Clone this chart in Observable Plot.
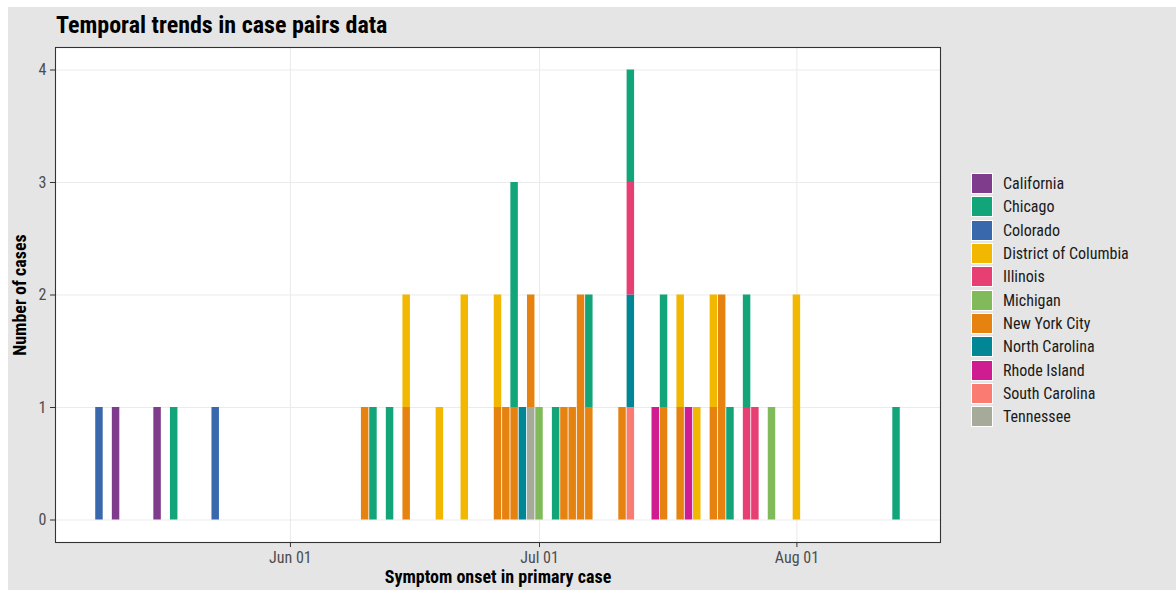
<!DOCTYPE html>
<html>
<head>
<meta charset="utf-8">
<script src="https://cdn.jsdelivr.net/npm/d3@7"></script>
<script src="https://cdn.jsdelivr.net/npm/@observablehq/plot@0.6"></script>
<style>
  html, body { margin: 0; padding: 0; background: #ffffff; }
  body { width: 1176px; height: 590px; position: relative; overflow: hidden; }
  #wrap { position: absolute; left: 8px; top: 7px; width: 1168px; height: 583px; background: #e5e5e5;
          font-family: "Roboto Condensed", "Liberation Sans Narrow", "Roboto", sans-serif; }
  #title { position: absolute; left: 48px; top: 4px; font-size: 24px; font-weight: bold; color: #000; line-height: 1.2; white-space: nowrap; }
  #chart { position: absolute; left: 0; top: 0; }
  #legend { position: absolute; left: 963px; top: 165px; }
  .item { height: 23.3px; display: flex; align-items: center; }
  .sw { width: 20px; height: 19px; border: 1px solid #ffffff; box-sizing: content-box; }
  .lab { margin-left: 10px; font-size: 16px; color: #1a1a1a; white-space: nowrap; }
  g[aria-label="y-axis label"] text, g[aria-label="x-axis label"] text { font-weight: bold; font-size: 18px !important; fill: #000; }
  g[aria-label="x-axis tick label"] text, g[aria-label="y-axis tick label"] text { font-size: 16px !important; }
</style>
</head>
<body>
<div id="wrap">
  <div id="title">Temporal trends in case pairs data</div>
  <div id="chart"></div>
  <div id="legend"></div>
</div>
<script>
const states = ["California", "Chicago", "Colorado", "District of Columbia", "Illinois", "Michigan",
                "New York City", "North Carolina", "Rhode Island", "South Carolina", "Tennessee"];
const stateColors = ["#7F3C8D", "#11A579", "#3969AC", "#F2B701", "#E73F74", "#80BA5A",
                     "#E68310", "#008695", "#CF1C90", "#F97B72", "#A5AA99"];

const onsetDates = [
  "2020-05-09", "2020-05-11", "2020-05-16", "2020-05-18", "2020-05-23",
  "2020-06-10", "2020-06-11", "2020-06-13", "2020-06-15", "2020-06-15",
  "2020-06-19", "2020-06-22", "2020-06-26", "2020-06-26", "2020-06-27",
  "2020-06-28", "2020-06-28", "2020-06-29", "2020-06-30", "2020-06-30",
  "2020-07-01", "2020-07-03", "2020-07-04", "2020-07-05", "2020-07-06",
  "2020-07-07", "2020-07-07", "2020-07-11", "2020-07-12", "2020-07-12",
  "2020-07-12", "2020-07-12", "2020-07-15", "2020-07-16", "2020-07-16",
  "2020-07-18", "2020-07-18", "2020-07-19", "2020-07-20", "2020-07-22",
  "2020-07-22", "2020-07-23", "2020-07-24", "2020-07-26", "2020-07-26",
  "2020-07-27", "2020-07-29", "2020-08-01", "2020-08-13"
];
const caseStates = [
  "Colorado", "California", "California", "Chicago", "Colorado",
  "New York City", "Chicago", "Chicago", "New York City", "District of Columbia",
  "District of Columbia", "District of Columbia", "New York City", "District of Columbia", "New York City",
  "New York City", "Chicago", "North Carolina", "Tennessee", "New York City",
  "Michigan", "Chicago", "New York City", "New York City", "New York City",
  "New York City", "Chicago", "New York City", "South Carolina", "North Carolina",
  "Illinois", "Chicago", "Rhode Island", "New York City", "Chicago",
  "New York City", "District of Columbia", "Rhode Island", "District of Columbia", "New York City",
  "District of Columbia", "New York City", "Chicago", "Illinois", "Chicago",
  "Illinois", "Michigan", "District of Columbia", "Chicago"
];
const caseCounts = [
  1, 1, 1, 1, 1,
  1, 1, 1, 1, 1,
  1, 2, 1, 1, 1,
  1, 2, 1, 1, 1,
  1, 1, 1, 1, 2,
  1, 1, 1, 1, 1,
  1, 1, 1, 1, 1,
  1, 1, 1, 1, 1,
  1, 2, 1, 1, 1,
  1, 1, 2, 1
];

const xTickLabels = ["2020-06-01", "2020-07-01", "2020-08-01"];
const yTicks = [0, 1, 2, 3, 4];

const DAY = 864e5;
const cases = onsetDates.map((d, i) => ({date: new Date(d + "T00:00:00Z"), state: caseStates[i], count: caseCounts[i]}));
const xTickDates = xTickLabels.map(d => new Date(d + "T00:00:00Z"));

// ggplot-like domain: bars of width 0.9 day, expanded by 5%
const minD = d3.min(cases, d => +d.date) - 0.45 * DAY;
const maxD = d3.max(cases, d => +d.date) + 0.45 * DAY;
const padD = (maxD - minD) * 0.05;
const yMax = d3.max(d3.rollup(cases, v => d3.sum(v, d => d.count), d => +d.date).values());

const chart = Plot.plot({
  width: 1168,
  height: 583,
  marginLeft: 47,
  marginTop: 40,
  marginRight: 236,
  marginBottom: 48,
  style: {background: "transparent", fontFamily: "'Roboto Condensed', 'Liberation Sans Narrow', Roboto, sans-serif", fontSize: "16px", overflow: "visible"},
  x: {type: "utc", domain: [new Date(minD - padD), new Date(maxD + padD)]},
  y: {domain: [-yMax * 0.05, yMax * 1.05]},
  color: {domain: states, range: stateColors},
  marks: [
    Plot.frame({fill: "white", stroke: null}),
    Plot.gridX(xTickDates, {stroke: "#ebebeb", strokeOpacity: 1, strokeWidth: 1.1}),
    Plot.gridY(yTicks, {stroke: "#ebebeb", strokeOpacity: 1, strokeWidth: 1.1}),
    Plot.rectY(cases, Plot.stackY({
      x1: d => new Date(+d.date - 0.45 * DAY),
      x2: d => new Date(+d.date + 0.45 * DAY),
      y: "count",
      z: "state",
      fill: "state",
      order: [...states].reverse()
    })),
    Plot.frame({stroke: "#333333", strokeWidth: 1.1}),
    Plot.axisX(xTickDates, {
      tickFormat: d3.utcFormat("%b %d"), fontSize: 16,
      tickSize: 5, tickPadding: 4, stroke: "#333333", fill: "#4d4d4d",
      label: "Symptom onset in primary case", labelAnchor: "center", labelArrow: "none", labelOffset: 40
    }),
    Plot.axisY(yTicks, {
      tickFormat: d3.format("d"), fontSize: 16,
      tickSize: 5, tickPadding: 4, stroke: "#333333", fill: "#4d4d4d",
      label: "Number of cases", labelAnchor: "center", labelArrow: "none", labelOffset: 42
    })
  ]
});
document.getElementById("chart").appendChild(chart);

const legend = document.getElementById("legend");
states.forEach((s, i) => {
  const item = document.createElement("div");
  item.className = "item";
  const sw = document.createElement("div");
  sw.className = "sw";
  sw.style.background = stateColors[i];
  const lab = document.createElement("div");
  lab.className = "lab";
  lab.textContent = s;
  item.appendChild(sw);
  item.appendChild(lab);
  legend.appendChild(item);
});
</script>
</body>
</html>
